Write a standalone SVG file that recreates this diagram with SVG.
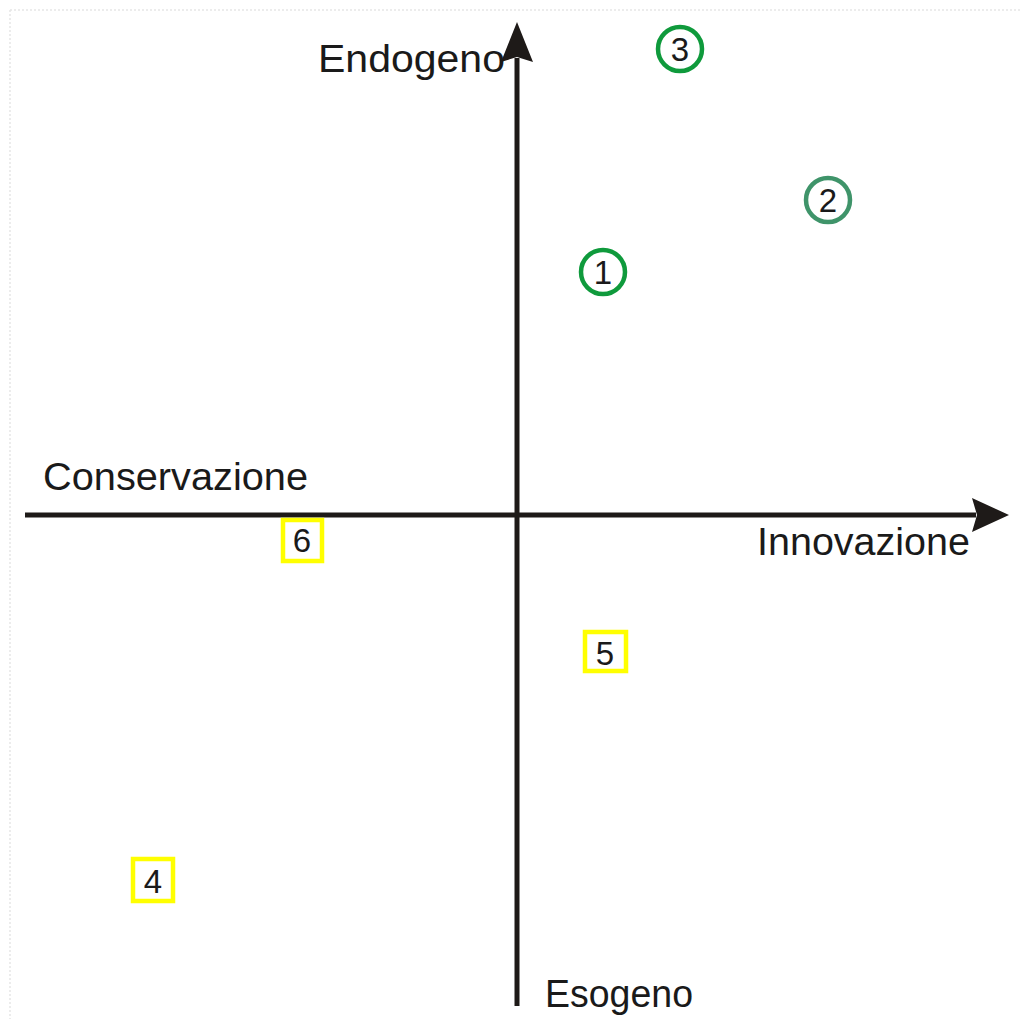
<svg xmlns="http://www.w3.org/2000/svg" width="1021" height="1019" viewBox="0 0 1021 1019">
<style>
.lbl{font-family:"Liberation Sans",Arial,sans-serif;font-size:38px;fill:#1a1a1a}
.num{font-family:"Liberation Sans",Arial,sans-serif;font-size:33px;fill:#1a1a1a;text-anchor:middle}
.axis{stroke:#1e1a18;stroke-width:5;fill:none}
.sq{fill:#fff;stroke:#ffff00;stroke-width:4.5}
.circ{fill:#fff;stroke-width:4.5}
.frame{stroke:#e6e6e6;stroke-width:1.5;stroke-dasharray:2 2;fill:none}
</style>
<rect width="1021" height="1019" fill="#fff"/>
<path class="frame" d="M10 10H1021M10 10V1019"/>
<g id="connectors">
  <line class="axis" x1="517" y1="1006" x2="517" y2="58"/>
  <polygon points="517,22 533,62 517,57 501,62" fill="#1e1a18"/>
  <line class="axis" x1="25" y1="515" x2="976" y2="515"/>
  <polygon points="1009,515 972,532 977,515 972,498" fill="#1e1a18"/>
</g>
<g id="label-endogeno"><text class="lbl" x="318" y="72" textLength="187" lengthAdjust="spacingAndGlyphs">Endogeno</text></g>
<g id="label-esogeno"><text class="lbl" x="545" y="1007" textLength="148" lengthAdjust="spacingAndGlyphs">Esogeno</text></g>
<g id="label-conservazione"><text class="lbl" x="43" y="490" textLength="265" lengthAdjust="spacingAndGlyphs">Conservazione</text></g>
<g id="label-innovazione"><text class="lbl" x="757" y="555" textLength="213" lengthAdjust="spacingAndGlyphs">Innovazione</text></g>
<g id="node-1"><circle class="circ" cx="603" cy="272" r="22" stroke="#0f9a3c"/><text class="num" x="603" y="284">1</text></g>
<g id="node-2"><circle class="circ" cx="828" cy="200" r="22" stroke="#3f946a"/><text class="num" x="828" y="212">2</text></g>
<g id="node-3"><circle class="circ" cx="680" cy="49" r="22" stroke="#0f9a3c"/><text class="num" x="680" y="61">3</text></g>
<g id="node-4"><rect class="sq" x="133" y="859" width="40" height="42"/><text class="num" x="153" y="893">4</text></g>
<g id="node-5"><rect class="sq" x="585" y="632" width="41" height="39"/><text class="num" x="605" y="665">5</text></g>
<g id="node-6"><rect class="sq" x="283" y="520" width="39" height="41"/><text class="num" x="302" y="552">6</text></g>
</svg>
